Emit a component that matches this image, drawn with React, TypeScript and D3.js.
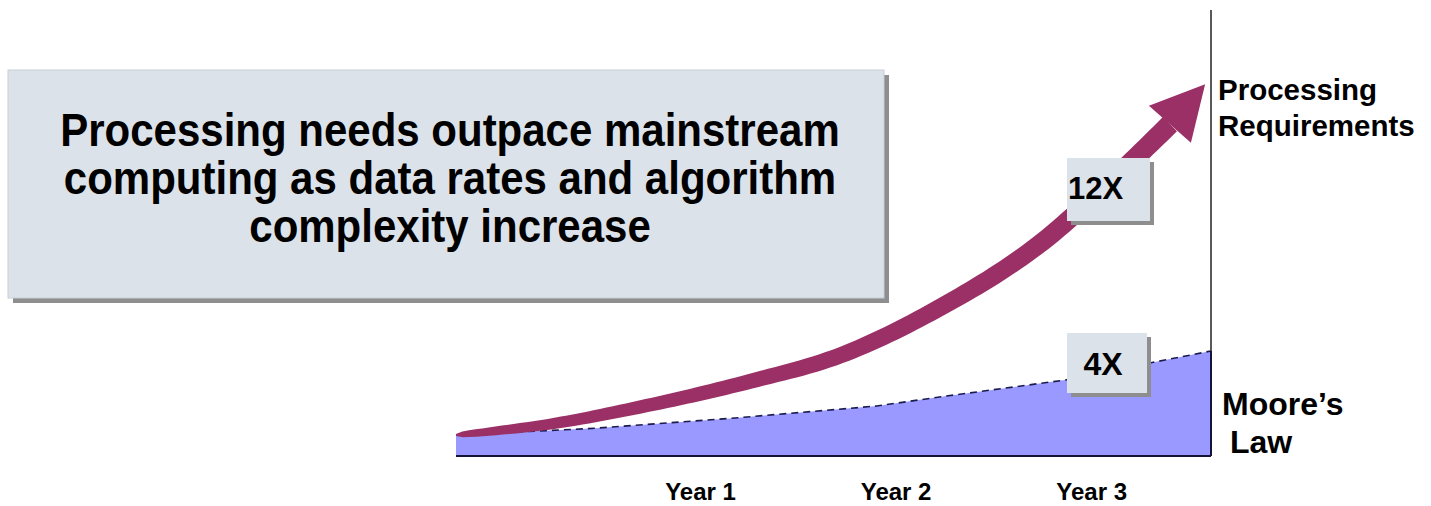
import * as d3 from "d3";
import { useEffect, useRef, useState } from "react";

// x runs in years, y in multiples of the starting processing level
const yearTicks = [1, 2, 3];
const yearLabels = ["Year 1", "Year 2", "Year 3"];

const mooreYears = [-0.25, 0.46, 1.15, 1.9, 2.23, 2.89, 3.33, 3.61];
const mooreValues = [1.0, 1.32, 1.79, 2.38, 2.82, 3.65, 4.49, 5.0];

const procYears = [-0.25, 0.23, 0.74, 1.26, 1.72, 2.23, 2.74, 3.4];
const procValues = [1.0, 1.52, 2.43, 3.57, 4.81, 7.1, 10.14, 15.8];
const procTip: [number, number] = [3.58, 17.7];

const titleLines = [
  "Processing needs outpace mainstream",
  "computing as data rates and algorithm",
  "complexity increase",
];
const procLabel = ["Processing", "Requirements"];
const mooreLabel = ["Moore\u2019s", "Law"];
const callouts = ["12X", "4X"];

const W = 1431;
const H = 506;
const FONT = "'Liberation Sans', Arial, sans-serif";
const BOX = "#dce2e9";
const SHADOW = "#8e8e8e";
const ARROW = "#9b3066";

export default function App() {
  const x = d3.scaleLinear([-0.25, 3.61], [456, 1211]);
  const y = d3.scaleLinear([0, 20], [456, 36]);

  const moore = mooreYears.map((t, i) => [t, mooreValues[i]] as [number, number]);
  const proc = procYears.map((t, i) => [t, procValues[i]] as [number, number]);

  const area = d3
    .area<[number, number]>()
    .x((d) => x(d[0]))
    .y0(y(0))
    .y1((d) => y(d[1]));
  const line = d3
    .line<[number, number]>()
    .x((d) => x(d[0]))
    .y((d) => y(d[1]));
  const curve = d3
    .line<[number, number]>()
    .x((d) => x(d[0]))
    .y((d) => y(d[1]))
    .curve(d3.curveCatmullRom);

  const guide = useRef<SVGPathElement>(null);
  const [body, setBody] = useState("");

  // tapered shaft built by sampling the centre curve
  useEffect(() => {
    const p = guide.current;
    if (!p) return;
    const L = p.getTotalLength();
    const n = 120;
    const left: [number, number][] = [];
    const right: [number, number][] = [];
    for (let i = 0; i <= n; i++) {
      const s = (L * i) / n;
      const a = p.getPointAtLength(Math.max(0, s - 1));
      const b = p.getPointAtLength(Math.min(L, s + 1));
      const c = p.getPointAtLength(s);
      const dx = b.x - a.x;
      const dy = b.y - a.y;
      const len = Math.hypot(dx, dy) || 1;
      const w = (2 + 18 * Math.pow(i / n, 0.33)) / 2;
      const nx = -dy / len;
      const ny = dx / len;
      left.push([c.x + nx * w, c.y + ny * w]);
      right.push([c.x - nx * w, c.y - ny * w]);
    }
    const pts = left.concat(right.reverse());
    setBody("M" + pts.map((q) => q.join(",")).join("L") + "Z");
  }, []);

  // arrow head
  const last = proc[proc.length - 1];
  const bx = x(last[0]);
  const by = y(last[1]);
  const tx = x(procTip[0]);
  const ty = y(procTip[1]);
  const hl = Math.hypot(tx - bx, ty - by);
  const px = (-(ty - by) / hl) * 28;
  const py = ((tx - bx) / hl) * 28;
  const head = `M${tx},${ty}L${bx + px},${by + py}L${bx - px},${by - py}Z`;

  return (
    <svg
      width={W}
      height={H}
      style={{ position: "absolute", left: 0, top: 0, display: "block", background: "#fff" }}
      fontFamily={FONT}
      fontWeight="bold"
    >
      {/* title box */}
      <rect x={13} y={75} width={876} height={228} fill={SHADOW} />
      <rect x={8} y={70} width={876} height={228} fill={BOX} stroke="#c9ced4" strokeWidth={1} />
      <g textAnchor="middle" fontSize={42} fill="#000">
        {titleLines.map((t, i) => (
          <text key={t} transform={`translate(450,${146 + i * 48}) scale(1,1.09)`}>
            {t}
          </text>
        ))}
      </g>

      {/* axis line */}
      <line x1={1211} x2={1211} y1={10} y2={y(5)} stroke="#222" strokeWidth={1.5} />

      {/* Moore's law area */}
      <path d={area(moore) || ""} fill="#9999ff" />
      <path d={line(moore) || ""} fill="none" stroke="#1b1b4d" strokeWidth={1.6} strokeDasharray="7 5" />
      <line x1={x(-0.25)} x2={x(3.61)} y1={y(0)} y2={y(0)} stroke="#14143a" strokeWidth={2} />
      <line x1={x(3.61)} x2={x(3.61)} y1={y(0)} y2={y(5)} stroke="#14143a" strokeWidth={2} />

      {/* processing arrow */}
      <path ref={guide} d={curve(proc) || ""} fill="none" stroke="none" />
      <path d={body} fill={ARROW} />
      <path d={head} fill={ARROW} />

      {/* callouts */}
      <rect x={1071} y={162} width={83} height={63} fill={SHADOW} />
      <rect x={1067} y={158} width={83} height={63} fill={BOX} />
      <text x={1068} y={199} fontSize={31}>
        {callouts[0]}
      </text>
      <rect x={1071} y={337} width={80} height={60} fill={SHADOW} />
      <rect x={1067} y={333} width={80} height={60} fill={BOX} />
      <text x={1103} y={375} fontSize={32} textAnchor="middle">
        {callouts[1]}
      </text>

      {/* side labels */}
      <g fontSize={29.5}>
        <text x={1218} y={100}>{procLabel[0]}</text>
        <text x={1218} y={136}>{procLabel[1]}</text>
        <text x={1222} y={415} fontSize={32}>{mooreLabel[0]}</text>
        <text x={1230} y={453} fontSize={32}>{mooreLabel[1]}</text>
      </g>

      {/* year labels */}
      <g fontSize={24} textAnchor="middle">
        {yearTicks.map((t, i) => (
          <text key={t} x={x(t)} y={500}>
            {yearLabels[i]}
          </text>
        ))}
      </g>
    </svg>
  );
}
